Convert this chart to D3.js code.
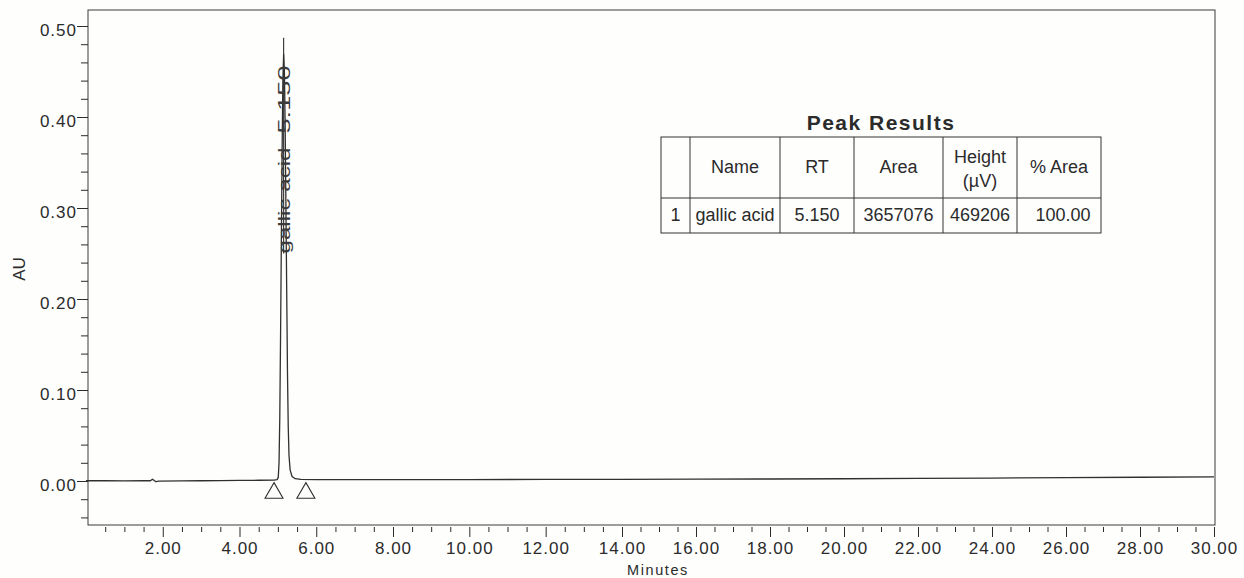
<!DOCTYPE html>
<html>
<head>
<meta charset="utf-8">
<script src="https://cdn.jsdelivr.net/npm/d3@7"></script>
<style>
  html, body { margin: 0; padding: 0; background: #fff; }
  svg { display: block; font-family: "Liberation Sans", Arial, sans-serif; }
</style>
</head>
<body>
<div id="chart"></div>
<script>
// Chromatogram trace (minutes, AU)
const traceTime = [
  0.00, 0.50, 1.00, 1.50, 1.68, 1.73, 1.77, 1.82, 1.90, 2.50, 3.00, 3.50, 4.00, 4.50,
  4.90, 4.98, 5.01, 5.03, 5.05, 5.07, 5.09, 5.11, 5.13, 5.15, 5.17, 5.19, 5.21, 5.23,
  5.25, 5.27, 5.29, 5.32, 5.37, 5.45, 5.60, 6.00, 8.00, 10.00, 12.00, 14.00, 16.00,
  18.00, 20.00, 22.00, 24.00, 26.00, 28.00, 30.00
];
const traceAU = [
  0.0003, 0.0003, 0.0002, 0.0003, 0.0003, 0.0020, 0.0008, -0.0008, -0.0002, 0.0002, 0.0003, 0.0005, 0.0006, 0.0008,
  0.0010, 0.0015, 0.004, 0.020, 0.070, 0.160, 0.260, 0.360, 0.440, 0.469, 0.450, 0.390, 0.300, 0.210,
  0.120, 0.060, 0.028, 0.012, 0.005, 0.0025, 0.0018, 0.0015, 0.0015, 0.0016, 0.0017, 0.0018, 0.0020,
  0.0022, 0.0025, 0.0028, 0.0032, 0.0036, 0.0041, 0.0046
];

// Integrated peak
const peakName = 'gallic acid';
const peakRT = 5.150;
const peakRTLabel = '5.150';
const peakStart = 4.90;
const peakEnd = 5.73;

// Axis ticks
const xMajorTicks = [2, 4, 6, 8, 10, 12, 14, 16, 18, 20, 22, 24, 26, 28, 30];
const xTickLabels = ['2.00', '4.00', '6.00', '8.00', '10.00', '12.00', '14.00', '16.00',
  '18.00', '20.00', '22.00', '24.00', '26.00', '28.00', '30.00'];
const yMajorTicks = [0, 0.1, 0.2, 0.3, 0.4, 0.5];
const yTickLabels = ['0.00', '0.10', '0.20', '0.30', '0.40', '0.50'];

// Peak Results table
const tableHeaders = [[], ['Name'], ['RT'], ['Area'], ['Height', '(\u00B5V)'], ['% Area']];
const tableRow = ['1', 'gallic acid', '5.150', '3657076', '469206', '100.00'];

const W = 1244, H = 578;
const frame = { left: 88, right: 1215, top: 10, bottom: 525 };
const ink = '#2b2b2b';

const svg = d3.select('#chart').append('svg')
  .attr('width', W)
  .attr('height', H);

svg.append('rect').attr('width', W).attr('height', H).attr('fill', '#fefefd');

// Scales (x is piecewise to follow the scanned tick spacing)
const x = d3.scaleLinear()
  .domain([0, 8, 14, 30])
  .range([86, 393, 622, 1214]);

const y = d3.scaleLinear()
  .domain([0, 0.5])
  .range([481, 26]);

// Plot frame
svg.append('rect')
  .attr('x', frame.left)
  .attr('y', frame.top)
  .attr('width', frame.right - frame.left)
  .attr('height', frame.bottom - frame.top)
  .attr('fill', 'none')
  .attr('stroke', '#3a3a3a')
  .attr('stroke-width', 1);

// X axis: minor ticks every 0.5 min, major every 2 min
const xMinor = d3.range(1, 61).filter(i => i % 4 !== 0).map(i => i / 2);

svg.append('g')
  .attr('transform', `translate(0,${frame.bottom + 2})`)
  .attr('color', ink)
  .call(d3.axisBottom(x).tickValues(xMinor).tickSize(5).tickFormat(''))
  .call(g => g.select('.domain').remove());

svg.append('g')
  .attr('transform', `translate(0,${frame.bottom + 2})`)
  .attr('color', ink)
  .call(d3.axisBottom(x).tickValues(xMajorTicks).tickSize(10).tickPadding(5)
    .tickFormat((d, i) => xTickLabels[i]))
  .attr('font-family', null)
  .attr('font-size', 17)
  .call(g => g.select('.domain').remove())
  .call(g => g.selectAll('text').style('letter-spacing', '1px'));

// Y axis: minor ticks every 0.02 AU, major every 0.10
const yMinor = d3.range(-2, 26).filter(i => i % 5 !== 0).map(i => i / 50);

svg.append('g')
  .attr('transform', `translate(${frame.left},0)`)
  .attr('color', ink)
  .call(d3.axisLeft(y).tickValues(yMinor).tickSize(7).tickFormat(''))
  .call(g => g.select('.domain').remove());

svg.append('g')
  .attr('transform', `translate(${frame.left},0)`)
  .attr('color', ink)
  .call(d3.axisLeft(y).tickValues(yMajorTicks).tickSize(11).tickPadding(0)
    .tickFormat((d, i) => yTickLabels[i]))
  .attr('font-family', null)
  .attr('font-size', 17)
  .call(g => g.select('.domain').remove())
  .call(g => g.selectAll('text').attr('dy', '0.55em').style('letter-spacing', '1px'));

// Axis titles
svg.append('text')
  .attr('transform', `translate(25, 269) rotate(-90)`)
  .attr('text-anchor', 'middle')
  .attr('fill', ink)
  .style('font-size', '17px')
  .text('AU');

svg.append('text')
  .attr('x', 658)
  .attr('y', 575)
  .attr('text-anchor', 'middle')
  .attr('fill', ink)
  .style('font-size', '14.5px')
  .style('letter-spacing', '1.6px')
  .text('Minutes');

// Trace
const trace = traceTime.map((t, i) => ({ t, v: traceAU[i] }));
const line = d3.line().x(d => x(d.t)).y(d => y(d.v));

svg.append('path')
  .datum(trace)
  .attr('d', line)
  .attr('fill', 'none')
  .attr('stroke', '#303030')
  .attr('stroke-width', 1.3)
  .attr('stroke-linejoin', 'round');

// Peak start / end markers
const tri = d3.symbol().type(d3.symbolTriangle).size(140);
svg.selectAll('.marker')
  .data([peakStart, peakEnd])
  .enter()
  .append('path')
  .attr('class', 'marker')
  .attr('transform', d => `translate(${x(d)},${y(0) + 12})`)
  .attr('d', tri)
  .attr('fill', 'none')
  .attr('stroke', '#303030')
  .attr('stroke-width', 1.1);

// Peak label: leader line through rotated, stretched text
const px = x(peakRT);
svg.append('line')
  .attr('x1', px).attr('x2', px)
  .attr('y1', y(0.25))
  .attr('y2', y(0.487))
  .attr('stroke', '#303030')
  .attr('stroke-width', 1.1);

svg.append('text')
  .attr('transform', `translate(${px + 6},${y(0.25)}) rotate(-90)`)
  .attr('fill', '#3a3a3a')
  .attr('textLength', 106)
  .attr('lengthAdjust', 'spacingAndGlyphs')
  .style('font-size', '17px')
  .text(peakName);

svg.append('text')
  .attr('transform', `translate(${px + 6},${y(0.25) - 120}) rotate(-90)`)
  .attr('fill', '#3a3a3a')
  .attr('textLength', 68)
  .attr('lengthAdjust', 'spacingAndGlyphs')
  .style('font-size', '17px')
  .text(peakRTLabel);

// Peak Results table
const colEdges = [661, 690, 780, 854, 943, 1017, 1101];
const tbl = { top: 137, headerBottom: 198, bottom: 233 };
const tg = svg.append('g').attr('class', 'peak-table');

tg.append('text')
  .attr('x', (colEdges[0] + colEdges[colEdges.length - 1]) / 2)
  .attr('y', 130)
  .attr('text-anchor', 'middle')
  .attr('fill', ink)
  .style('font-size', '21px')
  .style('font-weight', 'bold')
  .style('letter-spacing', '1.5px')
  .text('Peak Results');

tg.append('rect')
  .attr('x', colEdges[0])
  .attr('y', tbl.top)
  .attr('width', colEdges[colEdges.length - 1] - colEdges[0])
  .attr('height', tbl.bottom - tbl.top)
  .attr('fill', 'none')
  .attr('stroke', '#333')
  .attr('stroke-width', 1);

tg.append('line')
  .attr('x1', colEdges[0]).attr('x2', colEdges[colEdges.length - 1])
  .attr('y1', tbl.headerBottom).attr('y2', tbl.headerBottom)
  .attr('stroke', '#333');

tg.selectAll('.col-line')
  .data(colEdges.slice(1, -1))
  .enter()
  .append('line')
  .attr('class', 'col-line')
  .attr('x1', d => d).attr('x2', d => d)
  .attr('y1', tbl.top).attr('y2', tbl.bottom)
  .attr('stroke', '#333');

const colMid = i => (colEdges[i] + colEdges[i + 1]) / 2;

tableHeaders.forEach((lines, i) => {
  const base = lines.length > 1 ? 163 : 173;
  lines.forEach((txt, j) => {
    tg.append('text')
      .attr('x', colMid(i))
      .attr('y', base + j * 24)
      .attr('text-anchor', 'middle')
      .attr('fill', ink)
      .style('font-size', '18px')
      .text(txt);
  });
});

tg.selectAll('.cell')
  .data(tableRow)
  .enter()
  .append('text')
  .attr('class', 'cell')
  .attr('x', (d, i) => colMid(i) + (i === 5 ? 4 : 0))
  .attr('y', 221)
  .attr('text-anchor', 'middle')
  .attr('fill', ink)
  .style('font-size', '18px')
  .text(d => d);
</script>
</body>
</html>
